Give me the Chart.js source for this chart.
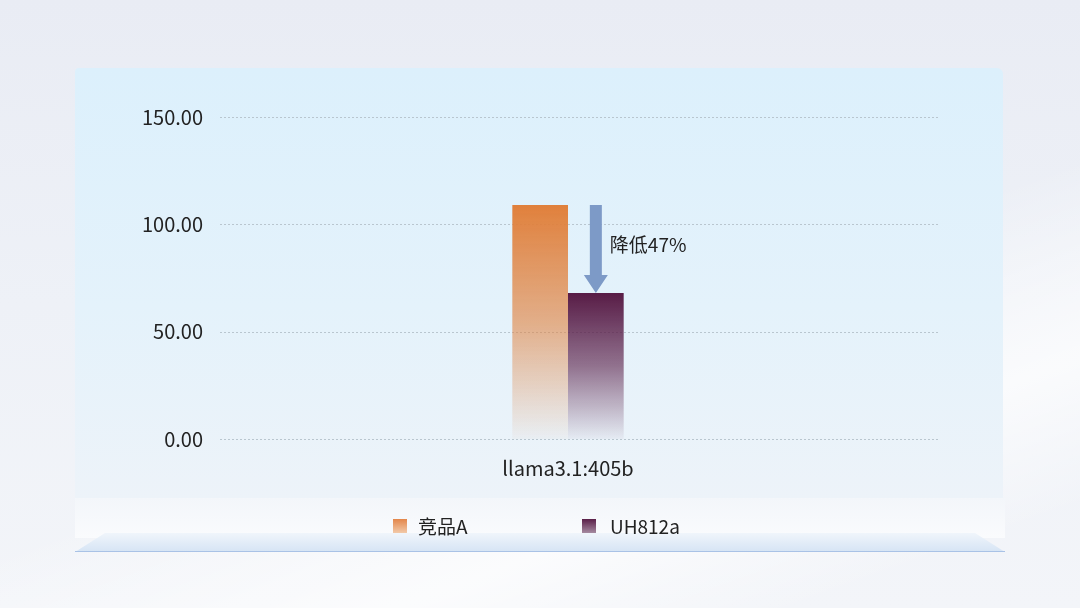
<!DOCTYPE html>
<html>
<head>
<meta charset="utf-8">
<script src="https://cdn.jsdelivr.net/npm/chart.js@4"></script>
<style>
  html, body { margin: 0; padding: 0; }
  body {
    width: 1080px; height: 608px; position: relative; overflow: hidden;
    font-family: "Noto Sans CJK SC", "Noto Sans", sans-serif;
    background:
      linear-gradient(160deg, rgba(255,255,255,0) 55%, rgba(255,255,255,0.7) 75%, rgba(255,255,255,0) 90%),
      linear-gradient(to bottom, #e9ecf4 0%, #eef1f7 50%, #f3f5f9 100%);
  }
  #panel {
    position: absolute; left: 75px; top: 68px; width: 928px; height: 432px;
    border-radius: 4px 6px 0 0;
    background: linear-gradient(to bottom, #dcf0fc 0%, #e4f2fb 55%, #edf3f9 100%);
  }
  #band {
    position: absolute; left: 75px; top: 498px; width: 930px; height: 40px;
    background: linear-gradient(to bottom, #f3f6fa, #fafbfd);
  }
  #platform {
    position: absolute; left: 75px; top: 533px; width: 930px; height: 20px;
    clip-path: polygon(30px 0, 900px 0, 930px 19px, 0 19px);
    background: linear-gradient(to bottom, #f0f5fb, #d4e3f4);
  }
  #platformLine {
    position: absolute; left: 75px; top: 551px; width: 930px; height: 1px; background: #a9c2e6;
  }
  #chartBox { position: absolute; left: 0; top: 0; width: 1080px; height: 608px; }
  .legend { position: absolute; top: 512px; font-size: 19px; color: #222; display: flex; align-items: center; }
  .legend span.box { width: 14px; height: 14px; display: inline-block; margin-right: 11px; }
</style>
</head>
<body>
<div id="panel"></div>
<div id="band"></div>
<div id="platform"></div>
<div id="platformLine"></div>
<div id="chartBox"><canvas id="chart" width="1080" height="608"></canvas></div>
<div class="legend" style="left:393px"><span class="box" style="background:linear-gradient(#e3864a,#f2c9a8)"></span>竞品A</div>
<div class="legend" style="left:582px"><span class="box" style="background:linear-gradient(#5a1f48,#a58aa0)"></span><span style="margin-left:3px">UH812a</span></div>
<script>
const categories = ["llama3.1:405b"];
const seriesNames = ["竞品A", "UH812a"];
const competitorValues = [109];
const uhValues = [68];
const yTicks = [0, 50, 100, 150];
const arrowLabel = "降低47%";

const seriesColors = [[224, 128, 60], [88, 28, 70]];
const FONT = '"Noto Sans CJK SC", sans-serif';

function fadeFill(rgb) {
  return (ctx) => {
    const chart = ctx.chart;
    const y = chart.scales.y;
    if (!chart.chartArea || !y || ctx.raw == null) return `rgb(${rgb.join(",")})`;
    const top = y.getPixelForValue(ctx.raw);
    const bottom = y.getPixelForValue(0);
    const g = chart.ctx.createLinearGradient(0, top, 0, bottom);
    g.addColorStop(0, `rgba(${rgb.join(",")},1)`);
    g.addColorStop(0.5, `rgba(${rgb.join(",")},0.6)`);
    g.addColorStop(1, `rgba(${rgb.join(",")},0.03)`);
    return g;
  };
}

// dotted horizontal grid, running a bit past the plot area on the right
const dottedGrid = {
  id: "dottedGrid",
  beforeDatasetsDraw(chart) {
    const { ctx, chartArea, scales: { y } } = chart;
    ctx.save();
    ctx.strokeStyle = "#b9c6cf";
    ctx.lineWidth = 1;
    ctx.setLineDash([2, 2]);
    y.ticks.forEach(t => {
      const py = Math.round(y.getPixelForValue(t.value)) + 0.5;
      ctx.beginPath();
      ctx.moveTo(chartArea.left, py);
      ctx.lineTo(chartArea.right + 24, py);
      ctx.stroke();
    });
    ctx.restore();
  }
};

// arrow from the competitor bar top down to the UH812a bar top
const dropArrow = {
  id: "dropArrow",
  afterDatasetsDraw(chart) {
    const bar = chart.getDatasetMeta(1).data[0];
    if (!bar) return;
    const y = chart.scales.y;
    const x = bar.x;
    const yTop = y.getPixelForValue(competitorValues[0]);
    const yEnd = y.getPixelForValue(uhValues[0]);
    const c = chart.ctx;
    c.save();
    c.fillStyle = "#7d9ac7";
    const shaft = 6, head = 12, headH = 18;
    c.beginPath();
    c.moveTo(x - shaft, yTop);
    c.lineTo(x + shaft, yTop);
    c.lineTo(x + shaft, yEnd - headH);
    c.lineTo(x + head, yEnd - headH);
    c.lineTo(x, yEnd);
    c.lineTo(x - head, yEnd - headH);
    c.lineTo(x - shaft, yEnd - headH);
    c.closePath();
    c.fill();
    c.fillStyle = "#222";
    c.font = "19px " + FONT;
    c.textBaseline = "middle";
    c.fillText(arrowLabel, x + 14, yTop + 40);
    c.restore();
  }
};

new Chart(document.getElementById("chart"), {
  type: "bar",
  data: {
    labels: categories,
    datasets: [
      { label: seriesNames[0], data: competitorValues, backgroundColor: fadeFill(seriesColors[0]) },
      { label: seriesNames[1], data: uhValues, backgroundColor: fadeFill(seriesColors[1]) }
    ]
  },
  options: {
    responsive: false,
    animation: false,
    devicePixelRatio: 1,
    categoryPercentage: 0.16,
    barPercentage: 1,
    layout: { padding: { left: 0, right: 164, top: 117, bottom: 129 } },
    plugins: { legend: { display: false }, tooltip: { enabled: false } },
    scales: {
      x: {
        grid: { display: false, drawTicks: false },
        border: { display: false },
        ticks: { color: "#222", font: { size: 20, family: FONT }, padding: 17 },
        afterFit: (s) => { s.height = 40; }
      },
      y: {
        min: 0, max: 150,
        afterBuildTicks: (s) => { s.ticks = yTicks.map(v => ({ value: v })); },
        grid: { display: false, drawTicks: false },
        border: { display: false },
        ticks: {
          color: "#222", padding: 17,
          font: { size: 20, family: FONT },
          callback: (v) => Number(v).toFixed(2)
        },
        afterFit: (s) => { s.width = 220; }
      }
    }
  },
  plugins: [dottedGrid, dropArrow]
});
</script>
</body>
</html>
